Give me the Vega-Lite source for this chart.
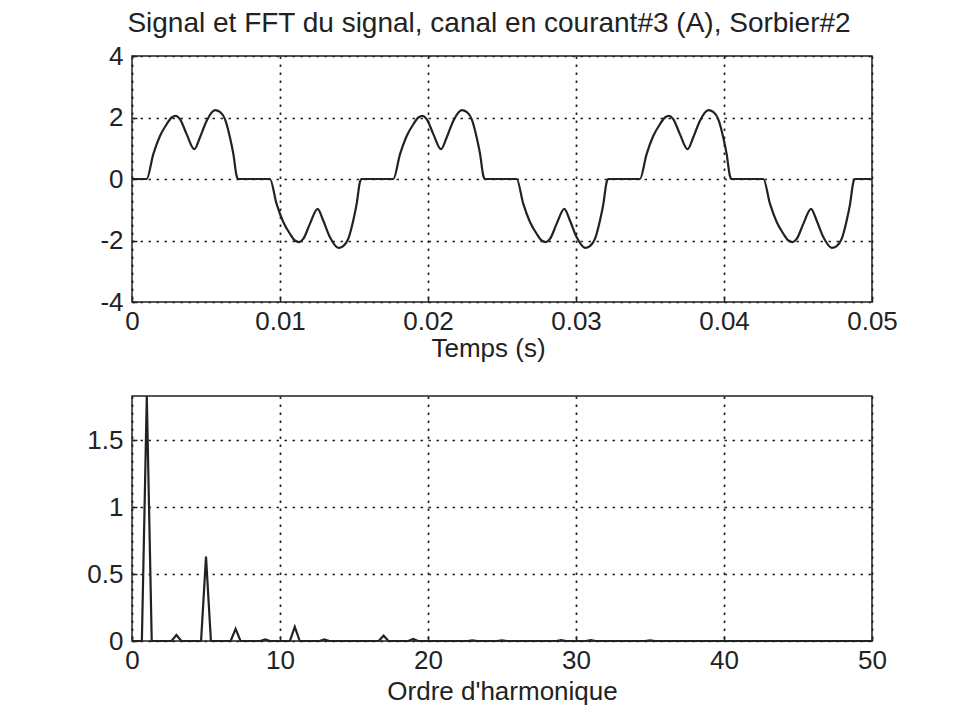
{
  "$schema": "https://vega.github.io/schema/vega-lite/v6.json",
  "autosize": {"type": "none"},
  "padding": {"left": 132, "top": 56, "right": 824, "bottom": 666},
  "background": "white",
  "config": {
    "font": "Liberation Sans",
    "view": {"stroke": "#222", "strokeWidth": 1.5},
    "axis": {
      "domain": false, "grid": true, "gridColor": "#222", "gridDash": [2.5, 5.5], "gridWidth": 1.7, "gridOpacity": 1,
      "ticks": true, "tickSize": -5, "tickColor": "#222", "tickWidth": 1.5,
      "labelFont": "Liberation Sans", "labelFontSize": 26, "labelColor": "#222", "labelFlush": false, "labelOverlap": false,
      "titleFont": "Liberation Sans", "titleFontSize": 26, "titleFontWeight": "normal", "titleColor": "#222"
    }
  },
  "bounds": "flush",
  "spacing": 94,
  "vconcat": [
    {
      "width": 740,
      "height": 246,
      "title": {"text": "Signal et FFT du signal, canal en courant#3 (A), Sorbier#2", "fontSize": 28, "fontWeight": "normal", "font": "Liberation Sans", "color": "#222", "offset": 5, "anchor": "middle", "dx": -13},
      "data": {"values": [
        {"t": 0, "i": 0},
        {"t": 0.00099, "i": 0}, {"t": 0.00144, "i": 0.81}, {"t": 0.00189, "i": 1.4}, {"t": 0.00234, "i": 1.78}, {"t": 0.00268, "i": 2.0}, {"t": 0.00297, "i": 2.05}, {"t": 0.00324, "i": 1.95}, {"t": 0.00369, "i": 1.46}, {"t": 0.00421, "i": 0.97}, {"t": 0.00459, "i": 1.35}, {"t": 0.00504, "i": 1.89}, {"t": 0.00561, "i": 2.24}, {"t": 0.00594, "i": 2.18}, {"t": 0.00628, "i": 1.95}, {"t": 0.00662, "i": 1.35}, {"t": 0.00685, "i": 0.81}, {"t": 0.00707, "i": 0.1}, {"t": 0.00718, "i": 0},
        {"t": 0.00932, "i": 0}, {"t": 0.00977, "i": -0.81}, {"t": 0.01022, "i": -1.4}, {"t": 0.01067, "i": -1.78}, {"t": 0.01101, "i": -2.0}, {"t": 0.0113, "i": -2.05}, {"t": 0.01157, "i": -1.95}, {"t": 0.01202, "i": -1.46}, {"t": 0.01254, "i": -0.97}, {"t": 0.01292, "i": -1.35}, {"t": 0.01337, "i": -1.89}, {"t": 0.01394, "i": -2.24}, {"t": 0.01427, "i": -2.18}, {"t": 0.01461, "i": -1.95}, {"t": 0.01495, "i": -1.35}, {"t": 0.01518, "i": -0.81}, {"t": 0.0154, "i": -0.1}, {"t": 0.01551, "i": 0},
        {"t": 0.01766, "i": 0}, {"t": 0.01811, "i": 0.81}, {"t": 0.01856, "i": 1.4}, {"t": 0.01901, "i": 1.78}, {"t": 0.01935, "i": 2.0}, {"t": 0.01964, "i": 2.05}, {"t": 0.01991, "i": 1.95}, {"t": 0.02036, "i": 1.46}, {"t": 0.02088, "i": 0.97}, {"t": 0.02126, "i": 1.35}, {"t": 0.02171, "i": 1.89}, {"t": 0.02228, "i": 2.24}, {"t": 0.02261, "i": 2.18}, {"t": 0.02295, "i": 1.95}, {"t": 0.02329, "i": 1.35}, {"t": 0.02352, "i": 0.81}, {"t": 0.02374, "i": 0.1}, {"t": 0.02385, "i": 0},
        {"t": 0.02599, "i": 0}, {"t": 0.02644, "i": -0.81}, {"t": 0.02689, "i": -1.4}, {"t": 0.02734, "i": -1.78}, {"t": 0.02768, "i": -2.0}, {"t": 0.02797, "i": -2.05}, {"t": 0.02824, "i": -1.95}, {"t": 0.02869, "i": -1.46}, {"t": 0.02921, "i": -0.97}, {"t": 0.02959, "i": -1.35}, {"t": 0.03004, "i": -1.89}, {"t": 0.03061, "i": -2.24}, {"t": 0.03094, "i": -2.18}, {"t": 0.03128, "i": -1.95}, {"t": 0.03162, "i": -1.35}, {"t": 0.03185, "i": -0.81}, {"t": 0.03207, "i": -0.1}, {"t": 0.03218, "i": 0},
        {"t": 0.03432, "i": 0}, {"t": 0.03477, "i": 0.81}, {"t": 0.03522, "i": 1.4}, {"t": 0.03567, "i": 1.78}, {"t": 0.03601, "i": 2.0}, {"t": 0.0363, "i": 2.05}, {"t": 0.03657, "i": 1.95}, {"t": 0.03702, "i": 1.46}, {"t": 0.03754, "i": 0.97}, {"t": 0.03792, "i": 1.35}, {"t": 0.03837, "i": 1.89}, {"t": 0.03894, "i": 2.24}, {"t": 0.03927, "i": 2.18}, {"t": 0.03961, "i": 1.95}, {"t": 0.03995, "i": 1.35}, {"t": 0.04018, "i": 0.81}, {"t": 0.0404, "i": 0.1}, {"t": 0.04051, "i": 0},
        {"t": 0.04266, "i": 0}, {"t": 0.04311, "i": -0.81}, {"t": 0.04356, "i": -1.4}, {"t": 0.04401, "i": -1.78}, {"t": 0.04435, "i": -2.0}, {"t": 0.04464, "i": -2.05}, {"t": 0.04491, "i": -1.95}, {"t": 0.04536, "i": -1.46}, {"t": 0.04588, "i": -0.97}, {"t": 0.04626, "i": -1.35}, {"t": 0.04671, "i": -1.89}, {"t": 0.04728, "i": -2.24}, {"t": 0.04761, "i": -2.18}, {"t": 0.04795, "i": -1.95}, {"t": 0.04829, "i": -1.35}, {"t": 0.04852, "i": -0.81}, {"t": 0.04874, "i": -0.1}, {"t": 0.04885, "i": 0},
        {"t": 0.05, "i": 0}
      ]},
      "mark": {"type": "line", "color": "#222", "strokeWidth": 2.2, "interpolate": "monotone"},
      "encoding": {
        "x": {"field": "t", "type": "quantitative", "sort": null, "scale": {"domain": [0, 0.05], "nice": false},
              "axis": {"values": [0, 0.01, 0.02, 0.03, 0.04, 0.05], "labelExpr": "datum.value + ''", "title": "Temps (s)", "labelPadding": 11, "titlePadding": 1, "titleX": 356}},
        "y": {"field": "i", "type": "quantitative", "scale": {"domain": [-4, 4], "nice": false},
              "axis": {"values": [-4, -2, 0, 2, 4], "labelExpr": "datum.value + ''", "title": null, "labelPadding": 14}}
      }
    },
    {
      "width": 740,
      "height": 245,
      "data": {"values": [
        {"h": 0, "a": 0}, {"h": 0.667, "a": 0}, {"h": 1, "a": 1.83}, {"h": 1.333, "a": 0},
        {"h": 2.667, "a": 0}, {"h": 3, "a": 0.045}, {"h": 3.333, "a": 0},
        {"h": 4.667, "a": 0}, {"h": 5, "a": 0.63}, {"h": 5.333, "a": 0},
        {"h": 6.667, "a": 0}, {"h": 7, "a": 0.09}, {"h": 7.333, "a": 0},
        {"h": 8.667, "a": 0}, {"h": 9, "a": 0.012}, {"h": 9.333, "a": 0},
        {"h": 10.667, "a": 0}, {"h": 11, "a": 0.105}, {"h": 11.333, "a": 0},
        {"h": 12.667, "a": 0}, {"h": 13, "a": 0.012}, {"h": 13.333, "a": 0},
        {"h": 16.667, "a": 0}, {"h": 17, "a": 0.04}, {"h": 17.333, "a": 0},
        {"h": 18.667, "a": 0}, {"h": 19, "a": 0.015}, {"h": 19.333, "a": 0},
        {"h": 22.667, "a": 0}, {"h": 23, "a": 0.005}, {"h": 23.333, "a": 0},
        {"h": 24.667, "a": 0}, {"h": 25, "a": 0.005}, {"h": 25.333, "a": 0},
        {"h": 28.667, "a": 0}, {"h": 29, "a": 0.006}, {"h": 29.333, "a": 0},
        {"h": 30.667, "a": 0}, {"h": 31, "a": 0.006}, {"h": 31.333, "a": 0},
        {"h": 34.667, "a": 0}, {"h": 35, "a": 0.004}, {"h": 35.333, "a": 0},
        {"h": 50, "a": 0}
      ]},
      "mark": {"type": "line", "color": "#222", "strokeWidth": 2.2},
      "encoding": {
        "x": {"field": "h", "type": "quantitative", "sort": null, "scale": {"domain": [0, 50], "nice": false},
              "axis": {"values": [0, 10, 20, 30, 40, 50], "labelExpr": "datum.value + ''", "title": "Ordre d'harmonique", "labelPadding": 11, "titlePadding": 5}},
        "y": {"field": "a", "type": "quantitative", "scale": {"domain": [0, 1.83], "nice": false},
              "axis": {"values": [0, 0.5, 1, 1.5], "labelExpr": "datum.value + ''", "title": null, "labelPadding": 14}}
      }
    }
  ]
}
